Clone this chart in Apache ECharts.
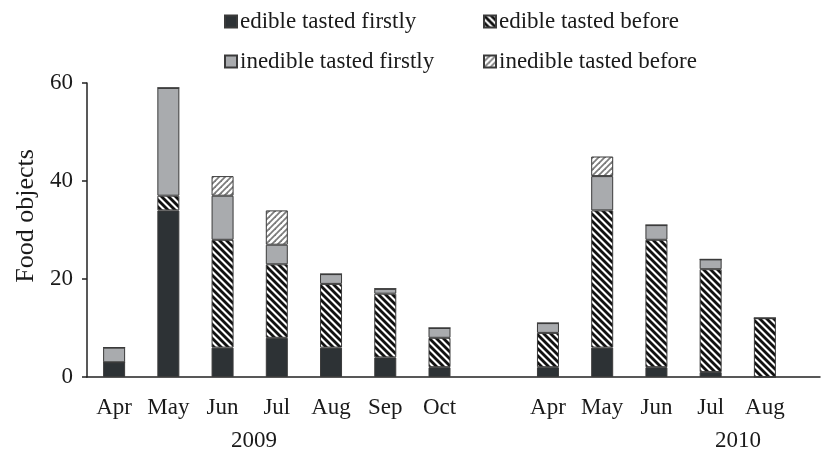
<!DOCTYPE html>
<html>
<head>
<meta charset="utf-8">
<script src="https://cdn.jsdelivr.net/npm/echarts@6/dist/echarts.min.js"></script>
<style>
  html, body { margin: 0; padding: 0; background: #fff; }
  #chart { width: 834px; height: 453px; }
</style>
</head>
<body>
<div id="chart"></div>
<script>
// Month categories; the empty slot separates the two seasons
const months = ['Apr', 'May', 'Jun', 'Jul', 'Aug', 'Sep', 'Oct', '', 'Apr', 'May', 'Jun', 'Jul', 'Aug'];
const yearLabels = ['2009', '2010'];

// Number of food objects per month and category
const edibleFirst   = [3, 34, 6, 8, 6, 4, 2, null, 2, 6, 2, 1, 0];
const edibleBefore  = [0, 3, 22, 15, 13, 13, 6, null, 7, 28, 26, 21, 12];
const inedibleFirst = [3, 22, 9, 4, 2, 1, 2, null, 2, 7, 3, 2, 0];
const inedibleBefore = [0, 0, 4, 7, 0, 0, 0, null, 0, 4, 0, 0, 0];

const seriesNames = ['edible tasted firstly', 'edible tasted before', 'inedible tasted firstly', 'inedible tasted before'];

const FONT = 'Liberation Serif';
const TEXT = '#1a1a1a';

// Diagonal hatch tile: dir = 1 for "\" stripes, -1 for "/" stripes
function hatch(size, lineWidth, stroke, dir) {
  const c = document.createElement('canvas');
  c.width = size; c.height = size;
  const ctx = c.getContext('2d');
  ctx.fillStyle = '#ffffff';
  ctx.fillRect(0, 0, size, size);
  ctx.strokeStyle = stroke;
  ctx.lineWidth = lineWidth;
  for (let k = -size; k <= size; k += size) {
    ctx.beginPath();
    if (dir > 0) { ctx.moveTo(k - 1, -1); ctx.lineTo(k + size + 1, size + 1); }
    else { ctx.moveTo(k - 1, size + 1); ctx.lineTo(k + size + 1, -1); }
    ctx.stroke();
  }
  return { image: c, repeat: 'repeat' };
}

const fills = [
  '#2d3235',
  hatch(7, 2.8, '#111111', 1),
  '#a9abae',
  hatch(6, 1.8, '#7c7c7c', -1)
];
const values = [edibleFirst, edibleBefore, inedibleFirst, inedibleBefore];

const chart = echarts.init(document.getElementById('chart'), null, { renderer: 'canvas' });

const legendPos = [
  { left: 219, top: 5 },
  { left: 478, top: 5 },
  { left: 219, top: 45 },
  { left: 478, top: 45 }
];

chart.setOption({
  animation: false,
  backgroundColor: '#ffffff',
  textStyle: { fontFamily: FONT },
  legend: seriesNames.map((n, i) => ({
    data: [n],
    left: legendPos[i].left,
    top: legendPos[i].top,
    itemWidth: 12,
    itemHeight: 12,
    itemGap: 4,
    icon: 'rect',
    selectedMode: false,
    textStyle: { fontFamily: FONT, fontSize: 23, color: TEXT, padding: [0, 0, 0, -2] }
  })),
  grid: [
    { left: 87, right: 42, top: 83, bottom: 76 },
    { left: 87, right: 14, top: 83, bottom: 76 }
  ],
  xAxis: [
    {
      type: 'category',
      gridIndex: 0,
      data: months,
      axisLine: { show: false },
      axisTick: { show: false },
      axisLabel: { fontFamily: FONT, fontSize: 23, color: TEXT, margin: 19, interval: 0 }
    },
    {
      type: 'value',
      gridIndex: 1,
      min: 0, max: 1,
      axisLine: { show: true, lineStyle: { color: '#222', width: 1.5 } },
      axisTick: { show: false },
      axisLabel: { show: false },
      splitLine: { show: false }
    }
  ],
  yAxis: [
    {
      type: 'value',
      gridIndex: 0,
      min: 0, max: 60, interval: 20,
      name: 'Food objects',
      nameLocation: 'middle',
      nameGap: 46,
      nameTextStyle: { fontFamily: FONT, fontSize: 26, color: TEXT, padding: [0, 0, 0, 28] },
      axisLine: { show: true, lineStyle: { color: '#222', width: 1.5 } },
      axisTick: { show: true, length: 5, lineStyle: { color: '#222', width: 1.5 } },
      axisLabel: { fontFamily: FONT, fontSize: 23, color: TEXT, margin: 14 },
      splitLine: { show: false }
    },
    {
      type: 'value',
      gridIndex: 1,
      min: 0, max: 60,
      show: false
    }
  ],
  graphic: [
    { type: 'text', x: 254, y: 441, style: { text: yearLabels[0], font: '23px "Liberation Serif"', fill: TEXT, textAlign: 'center', textVerticalAlign: 'middle' } },
    { type: 'text', x: 738, y: 441, style: { text: yearLabels[1], font: '23px "Liberation Serif"', fill: TEXT, textAlign: 'center', textVerticalAlign: 'middle' } }
  ],
  series: seriesNames.map((n, i) => ({
    name: n,
    type: 'bar',
    stack: 'food',
    xAxisIndex: 0,
    yAxisIndex: 0,
    barWidth: 22,
    data: values[i],
    itemStyle: { color: fills[i], borderColor: '#3a3a3a', borderWidth: 1 }
  }))
});
</script>
</body>
</html>
